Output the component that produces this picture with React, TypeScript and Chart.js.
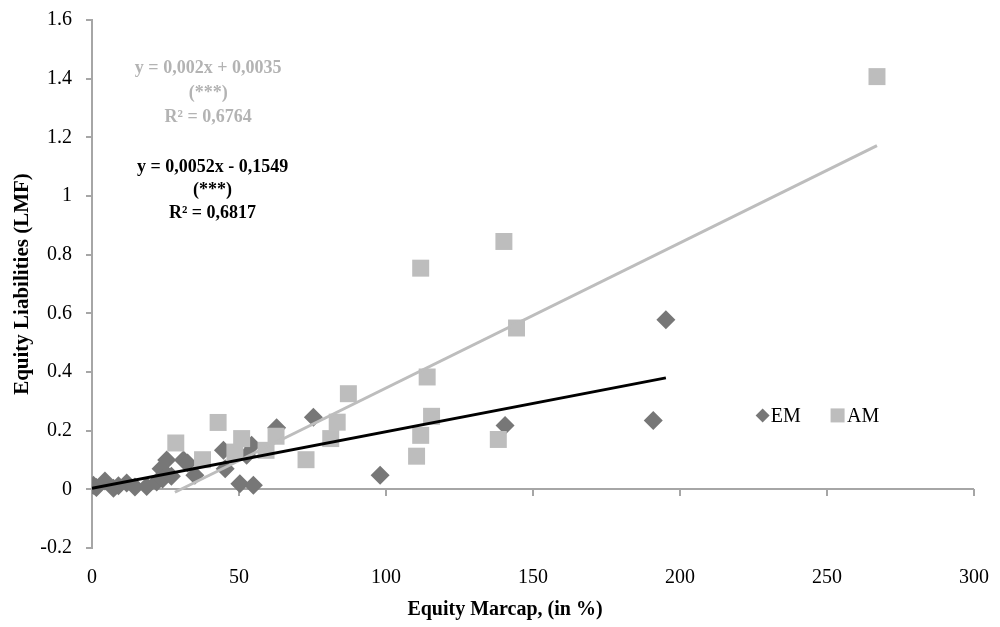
import React, { useEffect, useRef } from 'react';
import { Chart, registerables } from 'chart.js';

Chart.register(...registerables);

// ---- Data ----
const emX = [0.5, 1.5, 4.4, 7.3, 9, 11.8, 14.6, 18.6, 22, 23.5, 24, 25.4, 27, 31.1, 32.5, 35, 44.7, 45.3, 50.3, 52.6, 54.3, 54.9, 62.8, 75.3, 98, 140.5, 190.9, 195.2];
const emY = [0.014, 0.006, 0.028, 0.004, 0.012, 0.022, 0.008, 0.01, 0.025, 0.07, 0.035, 0.1, 0.045, 0.1, 0.09, 0.048, 0.133, 0.07, 0.019, 0.116, 0.15, 0.014, 0.21, 0.246, 0.048, 0.218, 0.235, 0.578];

const amX = [28.5, 37.6, 42.9, 48.6, 50.9, 59.2, 62.6, 72.8, 81.2, 83.4, 87.2, 110.4, 111.8, 111.8, 114, 115.5, 138.2, 140.1, 144.4, 267];
const amY = [0.158, 0.101, 0.228, 0.127, 0.173, 0.133, 0.181, 0.101, 0.173, 0.229, 0.326, 0.113, 0.184, 0.754, 0.383, 0.249, 0.17, 0.845, 0.55, 1.407];

const emTrendX = [0, 195.2];
const emTrendY = [0.0035, 0.38];
const amTrendX = [28.2, 267];
const amTrendY = [-0.01, 1.172];

const xTickValues = [0, 50, 100, 150, 200, 250, 300];
const xTickLabels = ['0', '50', '100', '150', '200', '250', '300'];
const yTickValues = [-0.2, 0, 0.2, 0.4, 0.6, 0.8, 1, 1.2, 1.4, 1.6];
const yTickLabels = ['-0.2', '0', '0.2', '0.4', '0.6', '0.8', '1', '1.2', '1.4', '1.6'];

const amEquation = ['y = 0,002x + 0,0035', '(***)', 'R² = 0,6764'];
const emEquation = ['y = 0,0052x - 0,1549', '(***)', 'R² = 0,6817'];
const seriesNames = ['EM', 'AM'];
const xTitle = 'Equity Marcap, (in %)';
const yTitle = 'Equity Liabilities (LMF)';

// ---- Styles ----
const SERIF = '"Liberation Serif", "Times New Roman", serif';
const EM_COLOR = '#777777';
const AM_COLOR = '#bdbdbd';
const AXIS_COLOR = '#a6a6a6';

const toPts = (xs: number[], ys: number[]) => xs.map((x, i) => ({ x, y: ys[i] }));

const zeroAxisPlugin = {
  id: 'zeroAxis',
  beforeDatasetsDraw(chart: any) {
    const { ctx, chartArea, scales } = chart;
    const x = scales.x;
    const y = scales.y;
    const py = Math.round(y.getPixelForValue(0));
    ctx.save();
    ctx.strokeStyle = AXIS_COLOR;
    ctx.lineWidth = 2;
    ctx.beginPath();
    ctx.moveTo(chartArea.left, py);
    ctx.lineTo(chartArea.right, py);
    x.ticks.forEach((t: any) => {
      const px = Math.round(x.getPixelForValue(t.value));
      ctx.moveTo(px, py);
      ctx.lineTo(px, py + 7);
    });
    ctx.stroke();
    ctx.restore();
  },
};

const annotationPlugin = {
  id: 'annotations',
  afterDatasetsDraw(chart: any) {
    const { ctx, scales } = chart;
    const x = scales.x;
    const y = scales.y;
    ctx.save();
    ctx.textAlign = 'center';
    ctx.textBaseline = 'middle';
    ctx.font = `bold 18px ${SERIF}`;
    const greyYs = [1.434, 1.349, 1.267];
    const blackYs = [1.097, 1.019, 0.94];
    ctx.fillStyle = '#b3b3b3';
    amEquation.forEach((t, i) => ctx.fillText(t, x.getPixelForValue(39.5), y.getPixelForValue(greyYs[i])));
    ctx.fillStyle = '#000';
    emEquation.forEach((t, i) => ctx.fillText(t, x.getPixelForValue(41), y.getPixelForValue(blackYs[i])));
    ctx.restore();
  },
  afterDraw(chart: any) {
    const { ctx, scales } = chart;
    const x = scales.x;
    const y = scales.y;
    ctx.save();
    // legend
    const ly = y.getPixelForValue(0.252);
    const dx = x.getPixelForValue(228.1);
    ctx.fillStyle = EM_COLOR;
    ctx.beginPath();
    ctx.moveTo(dx - 7, ly);
    ctx.lineTo(dx, ly - 7);
    ctx.lineTo(dx + 7, ly);
    ctx.lineTo(dx, ly + 7);
    ctx.closePath();
    ctx.fill();
    const sx = x.getPixelForValue(253.6);
    ctx.fillStyle = AM_COLOR;
    ctx.fillRect(sx - 7, ly - 7, 14, 14);
    ctx.fillStyle = '#000';
    ctx.font = `20px ${SERIF}`;
    ctx.textAlign = 'left';
    ctx.textBaseline = 'middle';
    ctx.fillText(seriesNames[0], x.getPixelForValue(230.9), ly + 1);
    ctx.fillText(seriesNames[1], x.getPixelForValue(256.8), ly + 1);
    // x axis title
    ctx.font = `bold 20px ${SERIF}`;
    ctx.textAlign = 'center';
    ctx.fillText(xTitle, chart.width / 2 + 5, 610);
    ctx.restore();
  },
};

export default function App() {
  const canvasRef = useRef<HTMLCanvasElement | null>(null);

  useEffect(() => {
    const canvas = canvasRef.current;
    if (!canvas) return;
    const chart = new Chart(canvas, {
      type: 'scatter',
      data: {
        datasets: [
          {
            type: 'line',
            label: 'EM trend',
            data: toPts(emTrendX, emTrendY),
            borderColor: '#000',
            borderWidth: 3,
            pointRadius: 0,
            fill: false,
            order: 0,
          } as any,
          {
            type: 'line',
            label: 'AM trend',
            data: toPts(amTrendX, amTrendY),
            borderColor: AM_COLOR,
            borderWidth: 3,
            pointRadius: 0,
            fill: false,
            order: 1,
          } as any,
          {
            label: seriesNames[1],
            data: toPts(amX, amY),
            pointStyle: 'rect',
            pointRadius: 12,
            backgroundColor: AM_COLOR,
            borderColor: AM_COLOR,
            borderWidth: 0,
            order: 2,
          },
          {
            label: seriesNames[0],
            data: toPts(emX, emY),
            pointStyle: 'rectRot',
            pointRadius: 9.5,
            backgroundColor: EM_COLOR,
            borderColor: EM_COLOR,
            borderWidth: 0,
            order: 3,
          },
        ],
      },
      options: {
        animation: false,
        responsive: false,
        layout: { padding: { top: 20, right: 26, left: 0, bottom: 0 } },
        plugins: {
          legend: { display: false },
          tooltip: { enabled: false },
        },
        scales: {
          x: {
            type: 'linear',
            position: 'bottom',
            min: 0,
            max: 300,
            afterFit: (s: any) => {
              s.height = 79;
              s.paddingLeft = 0;
              s.paddingRight = 0;
            },
            afterBuildTicks: (s: any) => { s.ticks = xTickValues.map((v) => ({ value: v })); },
            ticks: {
              padding: 18,
              color: '#000',
              font: { family: SERIF, size: 20 },
              maxRotation: 0,
              autoSkip: false,
              callback: (_v: any, i: number) => xTickLabels[i],
            },
            grid: { display: false, drawTicks: false },
            border: { display: false },
          },
          y: {
            type: 'linear',
            min: -0.2,
            max: 1.6,
            afterFit: (s: any) => {
              s.width = 92;
              s.paddingTop = 0;
              s.paddingBottom = 0;
            },
            afterBuildTicks: (s: any) => { s.ticks = yTickValues.map((v) => ({ value: v })); },
            ticks: {
              padding: 14,
              color: '#000',
              font: { family: SERIF, size: 20 },
              autoSkip: false,
              callback: (_v: any, i: number) => yTickLabels[i],
            },
            grid: { drawOnChartArea: false, drawTicks: true, tickLength: 6, color: AXIS_COLOR, lineWidth: 2 },
            border: { color: AXIS_COLOR, width: 2 },
            title: {
              display: true,
              text: yTitle,
              color: '#000',
              font: { family: SERIF, size: 21, weight: 'bold' },
              padding: { top: 10, bottom: 0 },
            },
          },
        },
      },
      plugins: [zeroAxisPlugin, annotationPlugin],
    } as any);
    return () => chart.destroy();
  }, []);

  return (
    <div style={{ position: 'absolute', left: 0, top: 0, width: 1000, height: 627, background: '#fff' }}>
      <canvas ref={canvasRef} width={1000} height={627} style={{ display: 'block' }} />
    </div>
  );
}
